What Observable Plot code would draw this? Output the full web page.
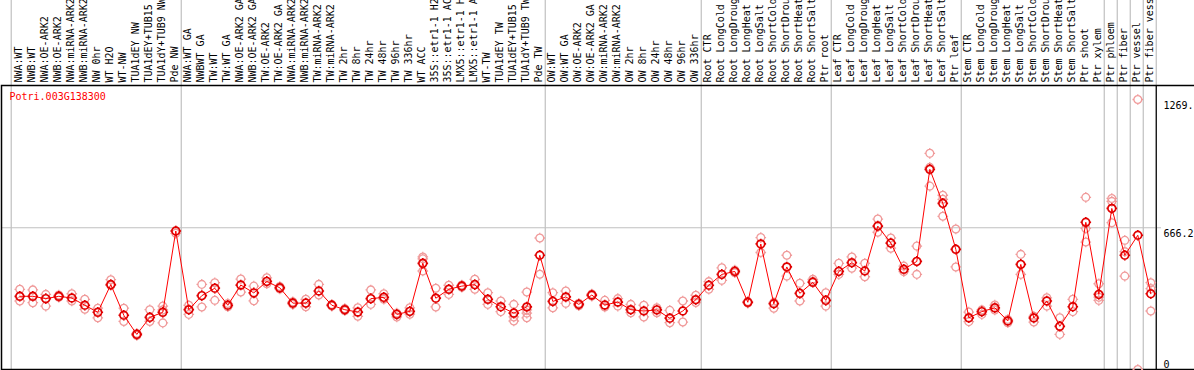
<!DOCTYPE html>
<html>
<head>
<meta charset="utf-8">
<script src="https://cdn.jsdelivr.net/npm/d3@7"></script>
<script src="https://cdn.jsdelivr.net/npm/@observablehq/plot@0.6"></script>
<style>
  html, body { margin: 0; padding: 0; background: #fff; }
  #chart svg { display: block; }
</style>
</head>
<body>
<div id="chart"></div>
<script>
const geneId = "Potri.003G138300";

const sampleLabels = [
  "NWA:WT","NWB:WT","NWA:OE-ARK2","NWB:OE-ARK2","NWA:miRNA-ARK2","NWB:miRNA-ARK2","NW 0hr","WT H2O","WT-NW","TUA1dEY NW","TUA1dEY+TUB15","TUA1dY+TUB9 NW","Pde NW",
  "NWA:WT GA","NWBWT GA","TW:WT","TW:WT GA","NWA:OE-ARK2 GA","NWB:OE-ARK2 GA","TW:OE-ARK2","TW:OE-ARK2 GA","NWA:miRNA-ARK2","NWB:miRNA-ARK2","TW:miRNA-ARK2","TW:miRNA-ARK2","TW 2hr","TW 8hr","TW 24hr","TW 48hr","TW 96hr","TW 336hr","WT ACC","35S::etr1-1 H2","35S::etr1-1 AC","LMX5::etr1-1 H","LMX5::etr1-1 A","WT-TW","TUA1dEY TW","TUA1dEY+TUB15","TUA1dY+TUB9 TW","Pde TW",
  "OW:WT","OW:WT GA","OW:OE-ARK2","OW:OE-ARK2 GA","OW:miRNA-ARK2","OW:miRNA-ARK2","OW 2hr","OW 8hr","OW 24hr","OW 48hr","OW 96hr","OW 336hr",
  "Root CTR","Root LongCold","Root LongDroug","Root LongHeat","Root LongSalt","Root ShortCold","Root ShortDrou","Root ShortHeat","Root ShortSalt","Ptr root",
  "Leaf CTR","Leaf LongCold","Leaf LongDroug","Leaf LongHeat","Leaf LongSalt","Leaf ShortCold","Leaf ShortDrou","Leaf ShortHeat","Leaf ShortSalt","Ptr leaf",
  "Stem CTR","Stem LongCold","Stem LongDroug","Stem LongHeat","Stem LongSalt","Stem ShortCold","Stem ShortDrou","Stem ShortHeat","Stem ShortSalt","Ptr shoot","Ptr xylem",
  "Ptr phloem","Ptr fiber","Ptr vessel","Ptr fiber vess"
];

// number of samples in each experiment block (separated by gray rules)
const groupSizes = [13, 28, 12, 10, 10, 11, 1, 1, 1, 1];

const meanValues = [
  344,344,333,344,336,302,269,399,255,165,245,269,651,
  281,347,382,302,397,360,414,384,312,312,369,302,281,270,333,339,259,273,499,335,377,392,399,330,295,265,294,537,
  320,341,306,350,303,317,281,275,280,241,275,328,
  396,447,461,316,590,309,482,358,410,325,
  461,502,463,674,594,471,508,941,781,565,
  243,272,290,228,494,242,322,203,295,692,353,
  757,537,631,356
];

const replicateValues = [
  [377,322],[374,314],[353,298],[350,340],[356,322],[330,283],[288,243],[422,395],[288,226],[170,160],[281,226],[298,280,219],[651,640],
  [302,259],[400,294],[408,325],[310,295],[425,364],[392,323],[431,403],[390,378],[318,306],[330,295],[400,350],[306,298],[286,276],[290,250],[374,306],[356,330],[265,247],[290,260],[529,520,463],[382,294],[396,353],[397,387],[424,377],[361,306],[322,272],[306,247,228],[364,280,265,243],[618,448],
  [361,290],[369,311],[311,300],[355,345],[325,294],[333,298],[306,267],[302,247],[290,267],[278,220],[322,223],[349,315],
  [413,377],[478,419],[467,455],[320,312],[620,550],[288,315],[537,439],[405,322],[424,415],[361,298],
  [499,447],[529,476],[499,436],[707,645],[618,570],[486,460],[580,447],[1016,950,862],[819,800,720],[660,482],
  [270,225],[280,259],[303,280],[235,220],[541,447],[250,223],[337,298],[243,165],[330,272],[809,663,599],[403,325,340],
  [804,790,690],[607,554,439],[1269,0],[408,380,275]
];

const yTicks = [0, 666.2, 1269];
const yTickLabels = ["0", "666.2", "1269."];

// ---- derived tables ----
const means = meanValues.map((v, i) => ({i, v, label: sampleLabels[i]}));
const reps = replicateValues.flatMap((arr, i) => arr.map(v => ({i, v})));
let acc = 0;
const separators = [-0.66];
for (const n of groupSizes) { acc += n; separators.push(acc - 1 + 0.42); }
const ticks = yTicks.map((v, k) => ({v, t: yTickLabels[k]}));

// ring symbol with small spokes, like the original bitmap markers
const ringSymbol = {
  draw(ctx, size) {
    const r = Math.sqrt(size / Math.PI);
    ctx.moveTo(r, 0);
    ctx.arc(0, 0, r, 0, 2 * Math.PI);
    const s = 1.4;
    for (const [cx, cy] of [[1,0],[-1,0],[0,1],[0,-1]]) {
      ctx.moveTo(cx * r, cy * r);
      ctx.lineTo(cx * (r + s), cy * (r + s));
    }
  }
};

const font = "DejaVu Sans Mono, monospace";
const n = sampleLabels.length;

const chart = Plot.plot({
  width: 1194,
  height: 370,
  marginLeft: 1,
  marginRight: 39,
  marginTop: 85,
  marginBottom: 1,
  style: {fontFamily: font, fontSize: "10px", background: "#fff", overflow: "hidden"},
  x: {type: "linear", domain: [0, n - 1], range: [19.3, 1150.3], axis: null},
  y: {type: "linear", domain: [0, 1269], range: [369, 99], axis: null},
  marks: [
    // gray separators between experiment blocks, running through the label band
    Plot.ruleX(separators, {x: d => d, stroke: "#c0c0c0", strokeWidth: 1.2, insetTop: -85}),
    // gray reference line at the middle tick
    Plot.ruleY(yTicks.filter(v => v > 0 && v < 1269), {y: d => d, stroke: "#c0c0c0", strokeWidth: 1.2, insetRight: -6}),
    // frame: extends to right edge for top and bottom lines
    Plot.frame({stroke: "#000", strokeWidth: 1.5, insetRight: -45}),
    Plot.ruleX([n - 1 + 0.42], {x: d => d, stroke: "#000", strokeWidth: 1.2}),
    // replicates
    Plot.dot(reps, {x: "i", y: "v", r: 3.9, symbol: ringSymbol, stroke: "#f09a9a", strokeWidth: 1.3, fill: "none"}),
    // mean line
    Plot.line(means, {x: "i", y: "v", stroke: "#ff0000", strokeWidth: 1}),
    // means
    Plot.dot(means, {x: "i", y: "v", r: 3.9, symbol: ringSymbol, stroke: "#e00000", strokeWidth: 1.7, fill: "none"}),
    // sample labels (rotated, above the plot box)
    Plot.text(means, {x: "i", text: "label", frameAnchor: "top", rotate: -90, textAnchor: "start", lineAnchor: "middle", dy: -3, dx: -1, fill: "#000", fontSize: 10}),
    // gene id title
    Plot.text([geneId], {text: d => d, frameAnchor: "top-left", textAnchor: "start", lineAnchor: "top", dx: 8, dy: 7, fill: "#ff0000", fontSize: 10}),
    // right-hand axis labels
    Plot.text(ticks.filter(d => d.v > 0), {y: "v", text: "t", frameAnchor: "right", textAnchor: "start", lineAnchor: "top", dx: 8, dy: 2, fill: "#000", fontSize: 10}),
    Plot.text(ticks.filter(d => d.v === 0), {y: "v", text: "t", frameAnchor: "right", textAnchor: "start", lineAnchor: "bottom", dx: 8, dy: -2, fill: "#000", fontSize: 10})
  ]
});
document.getElementById("chart").append(chart);
</script>
</body>
</html>
